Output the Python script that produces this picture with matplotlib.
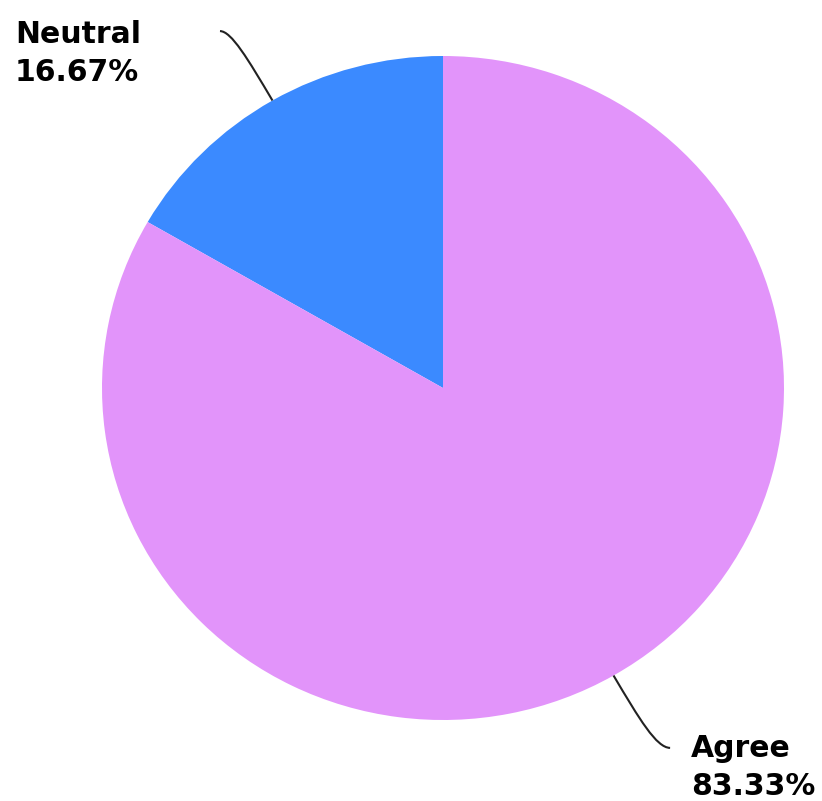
import numpy as np
import matplotlib
matplotlib.use("Agg")
import matplotlib.pyplot as plt
from matplotlib.path import Path
from matplotlib.patches import PathPatch

labels = ["Neutral", "Agree"]
values = [16.67, 83.33]
colors = ["#3b8aff", "#e294fa"]

# where each label's leader line ends and where its text sits (data units)
leader_end = [(-0.654, 1.075), (0.666, -1.084)]
text_pos = [(-1.255, 1.039), (0.727, -1.112)]

fig = plt.figure(figsize=(8.22, 8.01), dpi=100)
# pie is slightly wider than tall in the reference
ax = fig.add_axes([102 / 822, 81 / 801, 682 / 822, 664 / 801])

wedges, _ = ax.pie(values, colors=colors, startangle=90, counterclock=True,
                   radius=1.0, wedgeprops=dict(linewidth=0))
ax.set_aspect("auto")
ax.set_xlim(-1, 1)
ax.set_ylim(-1, 1)
ax.axis("off")

line_step = 38 / 332
for w, lab, val, end, tp in zip(wedges, labels, values, leader_end, text_pos):
    mid = np.deg2rad((w.theta1 + w.theta2) / 2)
    start = np.array([np.cos(mid), np.sin(mid)])
    # corner where the radial line meets the label's height
    t = end[1] / start[1]
    corner = start * t
    p1 = start + (corner - start) * 0.6
    verts = [tuple(start), tuple(p1), tuple(corner), end]
    path = Path(verts, [Path.MOVETO, Path.CURVE4, Path.CURVE4, Path.CURVE4])
    ax.add_patch(PathPatch(path, facecolor="none", edgecolor="#222222",
                           linewidth=1.5, clip_on=False))
    ax.text(tp[0], tp[1], lab, fontsize=21.5, fontweight="bold",
            ha="left", va="baseline", clip_on=False)
    ax.text(tp[0], tp[1] - line_step, f"{val:.2f}%", fontsize=21.5,
            fontweight="bold", ha="left", va="baseline", clip_on=False)

fig.savefig("out.png", dpi=100)
